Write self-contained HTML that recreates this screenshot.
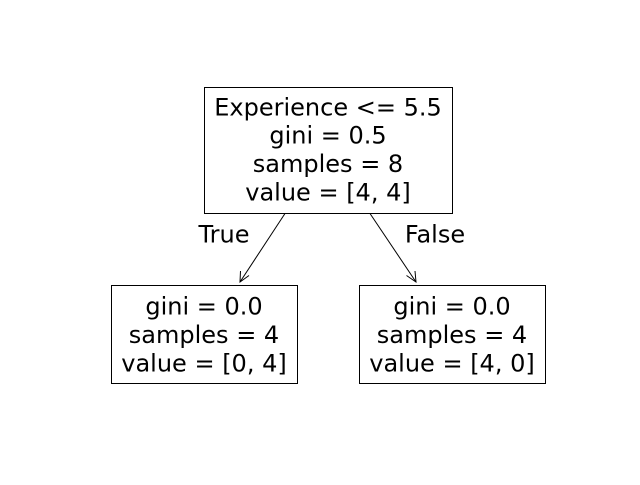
<!DOCTYPE html>
<html><head><style>html,body{margin:0;padding:0;background:#fff}</style></head>
<body>
<svg width="640" height="480" xmlns="http://www.w3.org/2000/svg" font-family="DejaVu Sans, sans-serif" font-size="24" text-anchor="middle" fill="#000">
<rect width="640" height="480" fill="#fff"/>
<rect x="204.5" y="87.5" width="248" height="126" fill="#fff" stroke="#000" stroke-width="1"/>
<text x="328" y="115.5">Experience &lt;= 5.5</text>
<text x="328" y="143.5">gini = 0.5</text>
<text x="328" y="172">samples = 8</text>
<text x="328" y="200.5">value = [4, 4]</text>
<rect x="111.5" y="285.5" width="186" height="98" fill="#fff" stroke="#000" stroke-width="1"/>
<text x="204" y="314.5">gini = 0.0</text>
<text x="204" y="343">samples = 4</text>
<text x="204" y="371.5">value = [0, 4]</text>
<rect x="359.5" y="285.5" width="186" height="98" fill="#fff" stroke="#000" stroke-width="1"/>
<text x="452" y="314.5">gini = 0.0</text>
<text x="452" y="343">samples = 4</text>
<text x="452" y="371.5">value = [4, 0]</text>
<g stroke="#000" stroke-width="1" fill="none">
<line x1="285" y1="213.5" x2="240" y2="282"/>
<polyline points="240.5,271 240,282 249,275.5"/>
<line x1="370" y1="213.5" x2="416" y2="282"/>
<polyline points="406.5,275.5 416,282 415,271"/>
</g>
<text x="224" y="242.5">True</text>
<text x="435" y="242.5">False</text>
</svg>
</body></html>
